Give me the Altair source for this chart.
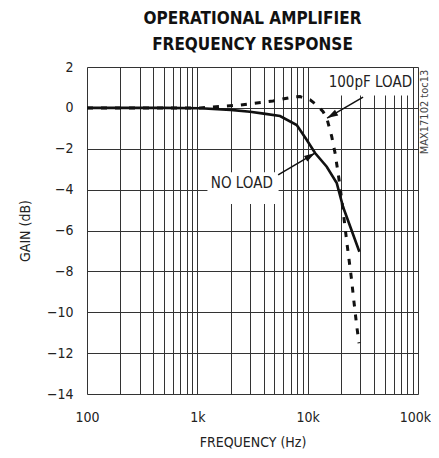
import altair as alt
import pandas as pd

# ---- data ----
noload_freq = [100, 500, 1057, 2000, 3000, 4000, 5620, 7960, 9820, 11670, 14890, 18350, 20950, 29430]
noload_gain = [0.0, 0.0, -0.02, -0.10, -0.19, -0.28, -0.40, -0.84, -1.57, -2.21, -2.88, -3.68, -4.85, -7.04]

load_freq = [100, 500, 1057, 2440, 4850, 7380, 8540, 10520, 12100, 13810, 14900, 16530, 17710,
             18870, 19670, 21070, 22610, 23720, 25110, 25950, 26890, 27880, 29220]
load_gain = [0.0, 0.0, 0.0, 0.14, 0.34, 0.53, 0.55, 0.39, 0.14, -0.19, -0.50, -1.41, -2.21,
             -3.19, -3.87, -5.14, -6.55, -7.43, -8.49, -9.23, -9.96, -10.70, -11.52]

grid_freqs = [m * 10 ** e for e in (2, 3, 4) for m in range(1, 10)] + [100000]
decade_values = [100, 1000, 10000, 100000]
decade_labels = ["100", "1k", "10k", "100k"]
gain_ticks = [2, 0, -2, -4, -6, -8, -10, -12, -14]

# annotations (data coordinates)
ann_text = ["100pF LOAD", "NO LOAD"]
ann_text_f = [37000, 2530]
ann_text_g = [1.28, -3.68]
box_f1 = [13900, 1235]
box_f2 = [89000, 5450]
box_g1 = [1.95, -3.15]
box_g2 = [0.60, -4.70]
arrow_f1 = [31770, 5400]
arrow_g1 = [0.53, -3.28]
arrow_f2 = [15000, 11670]
arrow_g2 = [-0.50, -2.21]
arrow_angle = [240, 59]

FONT = "DejaVu Sans Condensed, Liberation Sans, sans-serif"

curves = pd.concat([
    pd.DataFrame({"f": noload_freq, "g": noload_gain, "s": "NO LOAD"}),
    pd.DataFrame({"f": load_freq, "g": load_gain, "s": "100pF LOAD"}),
])
ann = pd.DataFrame({"t": ann_text, "tf": ann_text_f, "tg": ann_text_g,
                    "bf1": box_f1, "bf2": box_f2, "bg1": box_g1, "bg2": box_g2,
                    "af1": arrow_f1, "ag1": arrow_g1, "af2": arrow_f2, "ag2": arrow_g2,
                    "ang": arrow_angle})

label_expr = " : ".join(
    f"datum.value == {v} ? '{l}'" for v, l in zip(decade_values, decade_labels)) + " : ''"

xscale = alt.Scale(type="log", domain=[100, 100000], nice=False)
yscale = alt.Scale(domain=[-14, 2], nice=False, zero=False)

xaxis = alt.Axis(values=grid_freqs, labelExpr=label_expr, ticks=False, domain=False,
                 grid=True, gridColor="#333", gridWidth=1, gridOpacity=1,
                 labelFont=FONT, labelFontSize=14, labelColor="#222", labelPadding=16,
                 labelFlush=False, labelOverlap=False,
                 labelOffset={"expr": "datum.value == 100000 ? -3 : 0"},
                 title="FREQUENCY (Hz)", titleFont=FONT, titleFontSize=14, titleFontWeight="normal",
                 titleColor="#222", titleY=48, titleBaseline="middle")
yaxis = alt.Axis(values=gain_ticks, ticks=False, domain=False,
                 grid=True, gridColor="#333", gridWidth=1, gridOpacity=1,
                 labelFont=FONT, labelFontSize=14, labelColor="#222", labelPadding=14,
                 title="GAIN (dB)", titleFont=FONT, titleFontSize=14, titleFontWeight="normal",
                 titleColor="#222", titleX=-62, titleY=163.5, titleAngle=270,
                 titleAlign="center", titleBaseline="middle")

base_x = alt.X("f:Q", scale=xscale, axis=xaxis)
base_y = alt.Y("g:Q", scale=yscale, axis=yaxis)

solid = alt.Chart(curves).transform_filter(alt.datum.s == "NO LOAD").mark_line(
    color="#111", strokeWidth=2.6).encode(x=base_x, y=base_y, order="f:Q")
dashed = alt.Chart(curves).transform_filter(alt.datum.s == "100pF LOAD").mark_line(
    color="#111", strokeWidth=3, strokeDash=[6, 8]).encode(x="f:Q", y="g:Q", order="f:Q")

boxes = alt.Chart(ann).mark_rect(fill="white").encode(
    x=alt.X("bf1:Q", scale=xscale), x2="bf2:Q", y=alt.Y("bg1:Q", scale=yscale), y2="bg2:Q")
labels = alt.Chart(ann).mark_text(font=FONT, fontSize=15, color="#222").encode(
    x="tf:Q", y="tg:Q", text="t:N")
arrows = alt.Chart(ann).mark_rule(color="#111", strokeWidth=1.5).encode(
    x="af1:Q", y="ag1:Q", x2="af2:Q", y2="ag2:Q")
heads = alt.Chart(ann).mark_point(shape="M0,0L-0.6,2L0.6,2Z", filled=True, size=121,
                                  color="#111", opacity=1, strokeWidth=0).encode(
    x="af2:Q", y="ag2:Q", angle=alt.Angle("ang:Q", scale=None))

side = alt.Chart(pd.DataFrame({"t": ["MAX17102 toc13"]})).mark_text(
    font=FONT, fontSize=11, color="#444", angle=270).encode(
    x=alt.value(338), y=alt.value(45), text="t:N")

chart = alt.layer(boxes, solid, dashed, arrows, heads, labels, side).properties(
    width=331, height=327,
    autosize=alt.AutoSizeParams(type="none"),
    padding={"left": 79, "top": 59, "right": 13, "bottom": 56},
    title=alt.TitleParams(text=["OPERATIONAL AMPLIFIER", "FREQUENCY RESPONSE"],
                          font=FONT, fontSize=17, fontWeight="bold", color="#111",
                          anchor="middle", offset=6, lineHeight=26),
).configure_view(stroke="#111", strokeWidth=3).configure(background="white")

chart.save("out.html", embed_options={"renderer": "svg", "actions": False})
